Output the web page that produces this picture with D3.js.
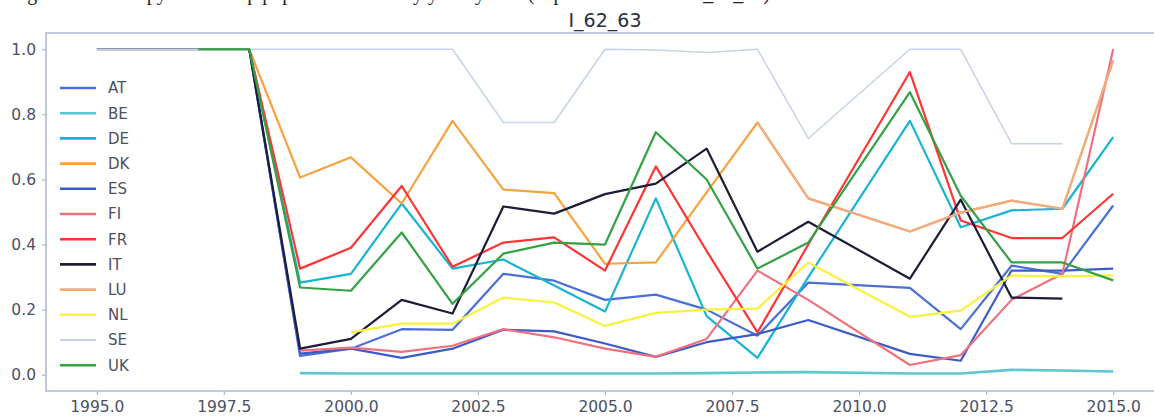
<!DOCTYPE html>
<html>
<head>
<meta charset="utf-8">
<script src="https://cdn.jsdelivr.net/npm/d3@7"></script>
<style>
  html, body { margin: 0; padding: 0; background: #ffffff; }
  svg { display: block; }
</style>
</head>
<body>
<svg id="chart" width="1154" height="419"></svg>
<script>
// ---------------- data ----------------
const years = [1995, 1996, 1997, 1998, 1999, 2000, 2001, 2002, 2003, 2004, 2005, 2006, 2007, 2008, 2009, 2011, 2012, 2013, 2014, 2015];

const AT = [null, null, null, 1.0, 0.058, 0.08, 0.14, 0.138, 0.31, 0.289, 0.23, 0.246, 0.20, 0.12, 0.283, 0.267, 0.14, 0.335, 0.31, 0.52];
const BE = [null, null, null, null, 0.005, 0.004, 0.004, 0.004, 0.004, 0.004, 0.004, 0.004, 0.005, 0.007, 0.008, 0.004, 0.004, 0.015, 0.013, 0.01];
const DE = [null, null, null, 1.0, 0.283, 0.31, 0.526, 0.326, 0.354, 0.274, 0.194, 0.542, 0.18, 0.052, 0.30, 0.78, 0.453, 0.505, 0.51, 0.73];
const DK = [null, null, null, 1.0, 0.606, 0.668, 0.526, 0.78, 0.569, 0.558, 0.341, 0.345, 0.56, 0.775, 0.542, 0.44, 0.498, 0.535, 0.51, 0.966];
const ES = [null, null, null, 1.0, 0.065, 0.08, 0.052, 0.08, 0.138, 0.133, 0.096, 0.055, 0.10, 0.125, 0.168, 0.064, 0.043, 0.32, 0.32, 0.326];
const FI = [null, null, null, null, 0.074, 0.083, 0.07, 0.089, 0.14, 0.115, 0.08, 0.055, 0.11, 0.32, 0.23, 0.03, 0.06, 0.23, 0.31, 1.0];
const FR = [null, null, null, 1.0, 0.326, 0.39, 0.58, 0.332, 0.406, 0.422, 0.32, 0.64, 0.38, 0.13, 0.40, 0.93, 0.474, 0.42, 0.42, 0.556];
const IT = [1.0, 1.0, 1.0, 1.0, 0.08, 0.11, 0.23, 0.188, 0.517, 0.495, 0.555, 0.587, 0.695, 0.378, 0.47, 0.295, 0.538, 0.237, 0.234, null];
const LU = [null, null, null, null, null, null, null, null, null, null, null, null, null, 0.775, 0.542, 0.44, 0.498, 0.535, 0.51, 0.966];
const NL = [null, null, null, null, null, 0.13, 0.157, 0.157, 0.237, 0.222, 0.15, 0.19, 0.20, 0.203, 0.345, 0.178, 0.197, 0.305, 0.302, 0.305];
const SE = [1.0, 1.0, 1.0, 1.0, 1.0, 1.0, 1.0, 1.0, 0.775, 0.775, 1.0, 0.998, 0.99, 1.0, 0.726, 1.0, 1.0, 0.71, 0.71, null];
const UK = [null, null, 1.0, 1.0, 0.268, 0.258, 0.437, 0.218, 0.372, 0.406, 0.40, 0.745, 0.60, 0.326, 0.406, 0.868, 0.55, 0.345, 0.345, 0.29];

const seriesNames = ["AT", "BE", "DE", "DK", "ES", "FI", "FR", "IT", "LU", "NL", "SE", "UK"];
const seriesValues = [AT, BE, DE, DK, ES, FI, FR, IT, LU, NL, SE, UK];

const xTicks = [1995, 1997.5, 2000, 2002.5, 2005, 2007.5, 2010, 2012.5, 2015];
const yTicks = [0.0, 0.2, 0.4, 0.6, 0.8, 1.0];
const titleText = "I_62_63";
const captionText = "Figure 4: Last copy of the map population effect by year system (dependent variable: I_62_63)";

// ---------------- style ----------------
const colors = {
  AT: "#4a6fd8", BE: "#5cc6d2", DE: "#17b4d4", DK: "#f7a241", ES: "#3b5bc9", FI: "#f0707e",
  FR: "#ff3434", IT: "#1c1c36", LU: "#f3ab80", NL: "#f8f23c", SE: "#c6d2ea", UK: "#32a244"
};
const widths = { SE: 1.5, BE: 2.6 };

const svg = d3.select("#chart");
const plotL = 46, plotR = 1164, plotT = 33, plotB = 391;

const x = d3.scaleLinear().domain([1994, 2016]).range([plotL, plotR]);
const y = d3.scaleLinear().domain([-0.05, 1.05]).range([plotB, plotT]);

const axisColor = "#aeb7cf";
const textColor = "#4b5064";

// caption cut off at top
svg.append("text")
  .attr("x", 770).attr("y", 0)
  .attr("text-anchor", "end")
  .attr("font-family", "Liberation Serif, serif")
  .attr("font-size", 20)
  .attr("fill", "#222")
  .text(captionText);

// clip
svg.append("clipPath").attr("id", "plotclip")
  .append("rect").attr("x", plotL).attr("y", plotT).attr("width", plotR - plotL).attr("height", plotB - plotT);

// lines
const line = d3.line()
  .defined(d => d.v != null)
  .x(d => x(d.year))
  .y(d => y(d.v));

const gLines = svg.append("g").attr("clip-path", "url(#plotclip)");
seriesNames.forEach((name, i) => {
  const pts = years.map((yr, j) => ({ year: yr, v: seriesValues[i][j] }));
  gLines.append("path")
    .datum(pts)
    .attr("d", line)
    .attr("fill", "none")
    .attr("stroke", colors[name])
    .attr("stroke-width", widths[name] || 2.2)
    .attr("stroke-linejoin", "round")
    .attr("stroke-linecap", "butt");
});

// axes
const xAxis = d3.axisBottom(x).tickValues(xTicks).tickFormat(d3.format(".1f")).tickSize(4).tickPadding(6);
const yAxis = d3.axisLeft(y).tickValues(yTicks).tickFormat(d3.format(".1f")).tickSize(4).tickPadding(6);

const gx = svg.append("g").attr("transform", `translate(0,${plotB})`).call(xAxis);
const gy = svg.append("g").attr("transform", `translate(${plotL},0)`).call(yAxis);

[gx, gy].forEach(g => {
  g.select(".domain").remove();
  g.selectAll(".tick line").attr("stroke", axisColor).attr("stroke-width", 1.2);
  g.selectAll(".tick text")
    .attr("fill", textColor)
    .attr("font-family", "DejaVu Sans, sans-serif")
    .attr("font-size", 15.5);
});

// spines
svg.append("rect")
  .attr("x", plotL).attr("y", plotT)
  .attr("width", plotR - plotL).attr("height", plotB - plotT)
  .attr("fill", "none")
  .attr("stroke", axisColor)
  .attr("stroke-width", 1.5);

// title
svg.append("text")
  .attr("x", (plotL + plotR) / 2).attr("y", 27)
  .attr("text-anchor", "middle")
  .attr("font-family", "DejaVu Sans, sans-serif")
  .attr("font-size", 19)
  .attr("fill", "#2a2e40")
  .text(titleText);

// legend
const legY0 = 88, legStep = 25.2;
const leg = svg.append("g");
seriesNames.forEach((name, i) => {
  const yy = legY0 + i * legStep;
  leg.append("line")
    .attr("x1", 60).attr("x2", 96)
    .attr("y1", yy).attr("y2", yy)
    .attr("stroke", colors[name])
    .attr("stroke-width", widths[name] ? Math.max(widths[name], 2.2) : 2.6);
  leg.append("text")
    .attr("x", 108).attr("y", yy)
    .attr("dy", "0.36em")
    .attr("font-family", "DejaVu Sans, sans-serif")
    .attr("font-size", 15)
    .attr("fill", textColor)
    .text(name);
});
</script>
</body>
</html>
